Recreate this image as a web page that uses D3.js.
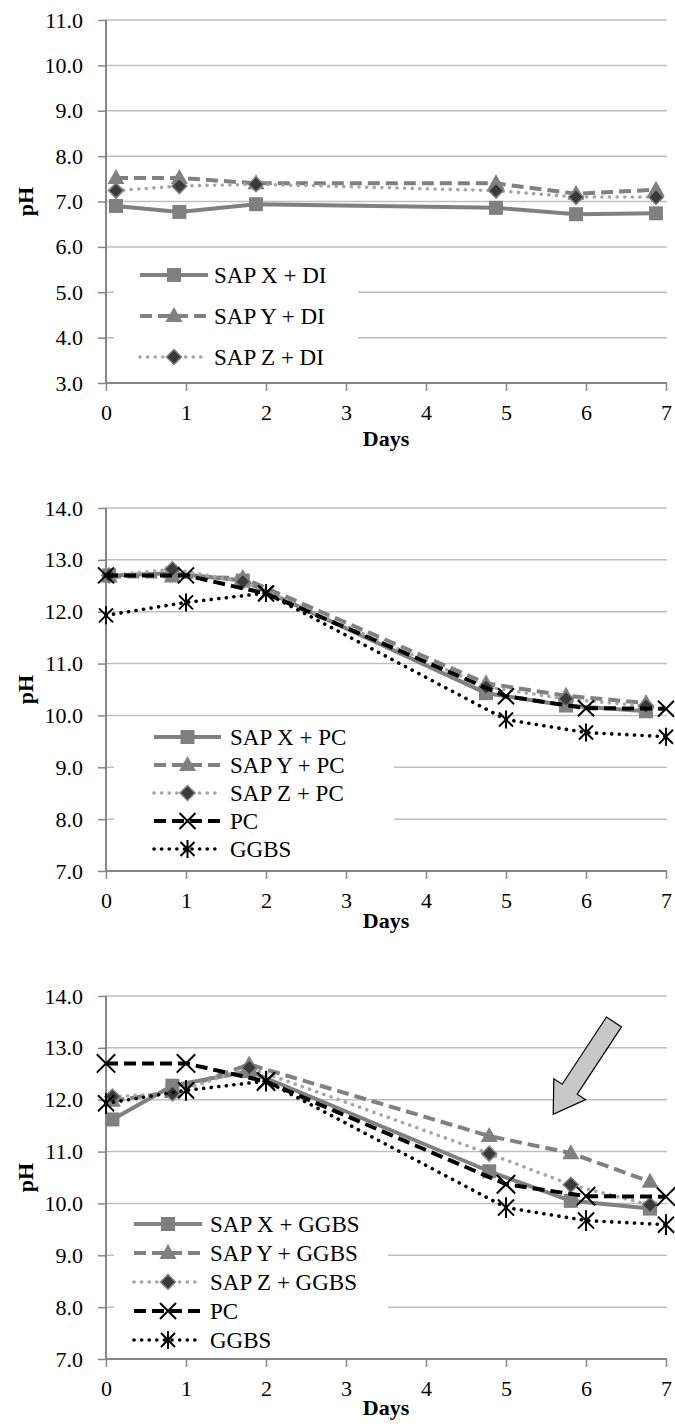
<!DOCTYPE html>
<html>
<head>
<meta charset="utf-8">
<script src="https://cdn.jsdelivr.net/npm/d3@7"></script>
<style>
  body { margin: 0; background: #fff; }
  svg text { font-family: "Liberation Serif", Tinos, "Times New Roman", serif !important; }
</style>
</head>
<body>
<script>
const width = 675;
const height = 1427;

// x ticks shared by every panel
const dayTicks = [0, 1, 2, 3, 4, 5, 6, 7];

// panel 1 : SAP in deionised water
const daysDI = [0.125, 0.917, 1.875, 4.875, 5.875, 6.875];
const sapXDI = [6.90, 6.77, 6.94, 6.86, 6.72, 6.74];
const sapYDI = [7.52, 7.52, 7.40, 7.40, 7.17, 7.26];
const sapZDI = [7.24, 7.34, 7.38, 7.24, 7.10, 7.10];
const ticksDI = [3, 4, 5, 6, 7, 8, 9, 10, 11];

// panel 2 : SAP in PC pore solution
const daysPC = [0.04, 0.83, 1.71, 4.75, 5.75, 6.75];
const sapXPC = [12.70, 12.74, 12.60, 10.43, 10.19, 10.08];
const sapYPC = [12.68, 12.68, 12.65, 10.62, 10.38, 10.24];
const sapZPC = [12.70, 12.82, 12.58, 10.55, 10.32, 10.18];

// reference solutions (panels 2 and 3)
const daysRef = [0, 1, 2, 5, 6, 7];
const pcRef = [12.70, 12.70, 12.35, 10.37, 10.14, 10.13];
const ggbsRef = [11.93, 12.18, 12.36, 9.92, 9.67, 9.59];

// panel 3 : SAP in GGBS pore solution
const daysGGBS = [0.08, 0.83, 1.79, 4.79, 5.81, 6.80];
const sapXGGBS = [11.62, 12.27, 12.55, 10.62, 10.05, 9.90];
const sapYGGBS = [11.98, 12.15, 12.68, 11.30, 10.97, 10.42];
const sapZGGBS = [12.06, 12.12, 12.62, 10.96, 10.36, 9.97];
const ticksHigh = [7, 8, 9, 10, 11, 12, 13, 14];

const serif = '"Liberation Serif", Tinos, "Times New Roman", serif';

const styles = {
  sapX: { color: '#808080', width: 4, dash: null, cap: 'butt', marker: 'square' },
  sapY: { color: '#808080', width: 4, dash: '12,6', cap: 'butt', marker: 'triangle' },
  sapZ: { color: '#a6a6a6', width: 3.6, dash: '0.1,7.5', cap: 'round', marker: 'diamond' },
  pc:   { color: '#000000', width: 4, dash: '12,6', cap: 'butt', marker: 'cross' },
  ggbs: { color: '#000000', width: 3.6, dash: '0.1,7.5', cap: 'round', marker: 'star' }
};

const panels = [
  {
    yRange: [383, 20], yDomain: [3, 11], ticks: ticksDI, daysY: 446, big: 1,
    series: [
      { name: 'SAP X + DI', style: 'sapX', days: daysDI, vals: sapXDI },
      { name: 'SAP Y + DI', style: 'sapY', days: daysDI, vals: sapYDI },
      { name: 'SAP Z + DI', style: 'sapZ', days: daysDI, vals: sapZDI }
    ],
    legend: { x: 114, y: 252, w: 244, h: 126, x0: 140, x1: 208, tx: 214, row0: 275, step: 41 }
  },
  {
    yRange: [871, 508], yDomain: [7, 14], ticks: ticksHigh, daysY: 928, big: 1,
    series: [
      { name: 'SAP X + PC', style: 'sapX', days: daysPC, vals: sapXPC },
      { name: 'SAP Y + PC', style: 'sapY', days: daysPC, vals: sapYPC },
      { name: 'SAP Z + PC', style: 'sapZ', days: daysPC, vals: sapZPC },
      { name: 'PC', style: 'pc', days: daysRef, vals: pcRef },
      { name: 'GGBS', style: 'ggbs', days: daysRef, vals: ggbsRef }
    ],
    legend: { x: 114, y: 722, w: 280, h: 144, x0: 154, x1: 221, tx: 230, row0: 737, step: 28 }
  },
  {
    yRange: [1359, 996], yDomain: [7, 14], ticks: ticksHigh, daysY: 1415, big: 1.15,
    series: [
      { name: 'SAP X + GGBS', style: 'sapX', days: daysGGBS, vals: sapXGGBS },
      { name: 'SAP Y + GGBS', style: 'sapY', days: daysGGBS, vals: sapYGGBS },
      { name: 'SAP Z + GGBS', style: 'sapZ', days: daysGGBS, vals: sapZGGBS },
      { name: 'PC', style: 'pc', days: daysRef, vals: pcRef },
      { name: 'GGBS', style: 'ggbs', days: daysRef, vals: ggbsRef }
    ],
    legend: { x: 114, y: 1210, w: 274, h: 146, x0: 134, x1: 202, tx: 210, row0: 1224, step: 29 },
    arrow: { from: [6.35, 13.5], to: [5.59, 11.72] }
  }
];

const xScale = d3.scaleLinear().domain([0, 7]).range([106, 666]);

const svg = d3.select('body')
  .append('svg')
  .attr('width', width)
  .attr('height', height);

function drawMarker(g, type, x, y, k) {
  if (type === 'square') {
    const s = 7;
    g.append('rect').attr('x', x - s).attr('y', y - s)
      .attr('width', 2 * s).attr('height', 2 * s).attr('fill', '#808080');
  } else if (type === 'triangle') {
    g.append('path')
      .attr('d', `M${x},${y - 9}L${x + 8.5},${y + 6}L${x - 8.5},${y + 6}Z`)
      .attr('fill', '#808080');
  } else if (type === 'diamond') {
    g.append('path')
      .attr('d', `M${x},${y - 7.5}L${x + 7.5},${y}L${x},${y + 7.5}L${x - 7.5},${y}Z`)
      .attr('fill', '#3a3a3a').attr('stroke', '#808080').attr('stroke-width', 1.5);
  } else if (type === 'cross') {
    const s = 8 * k;
    g.append('path')
      .attr('d', `M${x - s},${y - s}L${x + s},${y + s}M${x - s},${y + s}L${x + s},${y - s}`)
      .attr('stroke', '#000').attr('stroke-width', 2).attr('fill', 'none');
  } else if (type === 'star') {
    const s = 7 * k, v = 9 * k;
    g.append('path')
      .attr('d', `M${x - s},${y - s}L${x + s},${y + s}M${x - s},${y + s}L${x + s},${y - s}M${x},${y - v}L${x},${y + v}`)
      .attr('stroke', '#000').attr('stroke-width', 2).attr('fill', 'none');
  }
}

function strokeStyle(sel, st) {
  sel.attr('fill', 'none')
    .attr('stroke', st.color)
    .attr('stroke-width', st.width)
    .attr('stroke-linecap', st.cap)
    .attr('stroke-linejoin', 'round')
    .attr('stroke-dasharray', st.dash);
}

panels.forEach(p => {
  const yScale = d3.scaleLinear().domain(p.yDomain).range(p.yRange);
  const g = svg.append('g').attr('font-family', serif);

  // gridlines
  g.selectAll('.grid')
    .data(p.ticks.slice(1))
    .enter()
    .append('line')
    .attr('x1', 106).attr('x2', 667)
    .attr('y1', d => yScale(d)).attr('y2', d => yScale(d))
    .attr('stroke', '#bfbfbf').attr('stroke-width', 1.5);

  const yAxis = d3.axisLeft(yScale).tickValues(p.ticks)
    .tickFormat(d3.format('.1f')).tickSize(8).tickPadding(15);
  const xAxis = d3.axisBottom(xScale).tickValues(dayTicks)
    .tickFormat(d3.format('d')).tickSize(8).tickPadding(13);

  const ya = g.append('g').attr('transform', 'translate(106,0)').call(yAxis);
  const xa = g.append('g').attr('transform', `translate(0,${p.yRange[0]})`).call(xAxis);
  [ya, xa].forEach(a => {
    a.attr('font-family', serif).attr('font-size', 22);
    a.select('.domain').attr('stroke', '#868686').attr('stroke-width', 2);
    a.selectAll('.tick line').attr('stroke', '#868686').attr('stroke-width', 1.5);
    a.selectAll('.tick text').attr('fill', '#000');
  });
  xa.select('.domain').attr('d', `M106,0H667`);
  ya.select('.domain').attr('d', `M0,${p.yRange[1]}V${p.yRange[0]}`);

  // axis titles
  g.append('text')
    .attr('x', xScale(3.5)).attr('y', p.daysY)
    .attr('text-anchor', 'middle')
    .attr('font-size', 22).attr('font-weight', 'bold')
    .text('Days');
  g.append('text')
    .attr('transform', `translate(33,${(p.yRange[0] + p.yRange[1]) / 2}) rotate(-90)`)
    .attr('text-anchor', 'middle')
    .attr('font-size', 22).attr('font-weight', 'bold')
    .text('pH');

  // series
  const line = d3.line().x(d => xScale(d[0])).y(d => yScale(d[1]));
  p.series.forEach(s => {
    const pts = s.days.map((d, i) => [d, s.vals[i]]);
    const st = styles[s.style];
    g.append('path').datum(pts).attr('d', line).call(strokeStyle, st);
    pts.forEach(d => drawMarker(g, st.marker, xScale(d[0]), yScale(d[1]), p.big));
  });

  // legend
  const L = p.legend;
  g.append('rect').attr('x', L.x).attr('y', L.y).attr('width', L.w).attr('height', L.h).attr('fill', '#fff');
  p.series.forEach((s, i) => {
    const st = styles[s.style];
    const cy = L.row0 + i * L.step;
    g.append('line').attr('x1', L.x0).attr('x2', L.x1).attr('y1', cy).attr('y2', cy).call(strokeStyle, st);
    drawMarker(g, st.marker, (L.x0 + L.x1) / 2, cy, 1);
    g.append('text').attr('x', L.tx).attr('y', cy).attr('dy', '0.35em')
      .attr('font-size', 23).text(s.name);
  });

  // block arrow annotation
  if (p.arrow) {
    const [x0, y0] = [xScale(p.arrow.from[0]), yScale(p.arrow.from[1])];
    const [x1, y1] = [xScale(p.arrow.to[0]), yScale(p.arrow.to[1])];
    const len = Math.hypot(x1 - x0, y1 - y0);
    const angle = Math.atan2(y1 - y0, x1 - x0) * 180 / Math.PI;
    const shaft = 9, head = 19, headLen = 30;
    const pts = [[0, -shaft], [len - headLen, -shaft], [len - headLen, -head], [len, 0],
                 [len - headLen, head], [len - headLen, shaft], [0, shaft]];
    g.append('path')
      .attr('transform', `translate(${x0},${y0}) rotate(${angle})`)
      .attr('d', 'M' + pts.map(q => q.join(',')).join('L') + 'Z')
      .attr('fill', '#c8c8c8').attr('stroke', '#000').attr('stroke-width', 1.2);
  }
});
</script>
</body>
</html>
